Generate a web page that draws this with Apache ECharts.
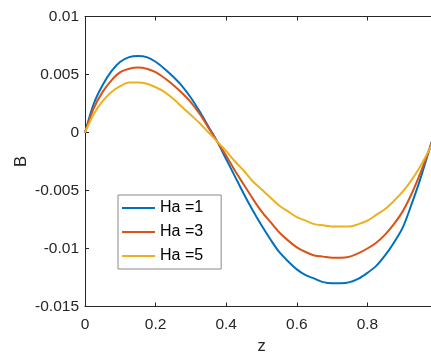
<!DOCTYPE html>
<html>
<head>
<meta charset="utf-8">
<script src="https://cdn.jsdelivr.net/npm/echarts@6/dist/echarts.min.js"></script>
<style>
  html, body { margin: 0; padding: 0; background: #ffffff; }
  #chart { width: 431px; height: 354px; }
</style>
</head>
<body>
<div id="chart"></div>
<script>
// Axial coordinate z
const zValues = [0, 0.025, 0.05, 0.075, 0.10, 0.125, 0.15, 0.175, 0.20, 0.225, 0.25,
                 0.275, 0.30, 0.325, 0.35, 0.375, 0.40, 0.425, 0.45, 0.475, 0.50,
                 0.525, 0.55, 0.575, 0.60, 0.625, 0.65, 0.675, 0.70, 0.725, 0.75,
                 0.775, 0.80, 0.825, 0.85, 0.875, 0.90, 0.925, 0.95, 0.975, 1.00];

// Induced magnetic field B for each Hartmann number
const bHa1 = [0, 0.0025, 0.0041, 0.0053, 0.0061, 0.0065, 0.0066, 0.0065, 0.0061, 0.0055, 0.0048,
              0.0040, 0.0030, 0.0018, 0.0005, -0.0008, -0.0023, -0.0038, -0.0053, -0.0067, -0.0080,
              -0.0092, -0.0103, -0.0111, -0.0118, -0.0123, -0.0126, -0.0129, -0.0130, -0.0130, -0.0129,
              -0.0126, -0.0121, -0.0115, -0.0106, -0.0095, -0.0082, -0.0062, -0.0040, -0.0015, 0.0010];
const bHa3 = [0, 0.0021, 0.0035, 0.0045, 0.0052, 0.0055, 0.0056, 0.0055, 0.0052, 0.0047, 0.0041,
              0.0034, 0.0026, 0.0016, 0.0004, -0.0008, -0.0020, -0.0033, -0.0045, -0.0057, -0.0068,
              -0.0077, -0.0086, -0.0093, -0.0099, -0.0103, -0.0106, -0.0107, -0.0108, -0.0108, -0.0107,
              -0.0104, -0.0100, -0.0095, -0.0088, -0.0079, -0.0068, -0.0053, -0.0035, -0.0015, 0.0006];
const bHa5 = [0, 0.0016, 0.0027, 0.0035, 0.0040, 0.0043, 0.0043, 0.0042, 0.0039, 0.0035, 0.0029,
              0.0022, 0.0015, 0.0008, 0.0000, -0.0008, -0.0016, -0.0025, -0.0033, -0.0042, -0.0049,
              -0.0056, -0.0063, -0.0068, -0.0073, -0.0076, -0.0079, -0.0080, -0.0081, -0.0081, -0.0081,
              -0.0079, -0.0076, -0.0071, -0.0066, -0.0059, -0.0051, -0.0041, -0.0029, -0.0015, 0.0001];

const seriesNames = ['Ha =1', 'Ha =3', 'Ha =5'];
const seriesColors = ['#0072BD', '#D95319', '#EDB120'];

// Axis ticks
const xTicks = [0, 0.2, 0.4, 0.6, 0.8, 1];
const yTicks = [-0.015, -0.01, -0.005, 0, 0.005, 0.01];

const axisColor = '#262626';
const fontFamily = 'Liberation Sans, Arial, sans-serif';
const tickFont = { color: axisColor, fontSize: 15.5, fontFamily: fontFamily };

const pairs = (ys) => zValues.map((z, i) => [z, ys[i]]);
const allSeries = [bHa1, bHa3, bHa5];

const chart = echarts.init(document.getElementById('chart'), null, { renderer: 'canvas' });

const baseX = {
  type: 'value',
  min: xTicks[0],
  max: xTicks[xTicks.length - 1],
  interval: xTicks[1] - xTicks[0],
  axisLine: { show: true, onZero: false, lineStyle: { color: axisColor, width: 1 } },
  axisTick: { show: true, inside: true, length: 4, lineStyle: { color: axisColor } },
  splitLine: { show: false }
};

chart.setOption({
  backgroundColor: '#ffffff',
  animation: false,
  grid: { left: 85, top: 16.5, width: 353, height: 290, containLabel: false, outerBoundsMode: 'none' },
  xAxis: [
    Object.assign({}, baseX, {
      position: 'bottom',
      name: 'z',
      nameLocation: 'middle',
      nameGap: 31,
      nameMoveOverlap: false,
      nameTextStyle: { color: axisColor, fontSize: 16.5, fontFamily: fontFamily },
      axisLabel: Object.assign({ margin: 10, formatter: (v) => String(v) }, tickFont)
    }),
    Object.assign({}, baseX, {
      position: 'top',
      axisLabel: { show: false }
    })
  ],
  yAxis: [{
    type: 'value',
    min: yTicks[0],
    max: yTicks[yTicks.length - 1],
    interval: 0.005,
    name: 'B',
    nameLocation: 'middle',
    nameGap: 55,
    nameMoveOverlap: false,
    nameRotate: 90,
    nameTextStyle: { color: axisColor, fontSize: 16.5, fontFamily: fontFamily },
    axisLine: { show: true, onZero: false, lineStyle: { color: axisColor, width: 1 } },
    axisTick: { show: true, inside: true, length: 4, lineStyle: { color: axisColor } },
    splitLine: { show: false },
    axisLabel: Object.assign({
      margin: 6,
      formatter: (v) => String(parseFloat(v.toFixed(4)))
    }, tickFont)
  }],
  legend: {
    show: true,
    orient: 'vertical',
    left: 118,
    top: 195,
    padding: [4, 18, 4, 3],
    itemWidth: 33,
    itemHeight: 18,
    itemGap: 6,
    itemTextGap: 3,
    backgroundColor: '#ffffff',
    borderColor: '#8a8a8a',
    borderWidth: 1,
    borderRadius: 0,
    // legend keys are plain line segments, without a marker
    itemStyle: { opacity: 0 },
    lineStyle: { width: 2 },
    textStyle: { color: '#000000', fontSize: 16, lineHeight: 18, fontFamily: fontFamily },
    data: seriesNames
  },
  series: allSeries.map((ys, i) => ({
    name: seriesNames[i],
    type: 'line',
    data: pairs(ys),
    smooth: 0.3,
    symbol: 'none',
    clip: true,
    lineStyle: { color: seriesColors[i], width: 2 },
    itemStyle: { color: seriesColors[i] }
  }))
});
</script>
</body>
</html>
